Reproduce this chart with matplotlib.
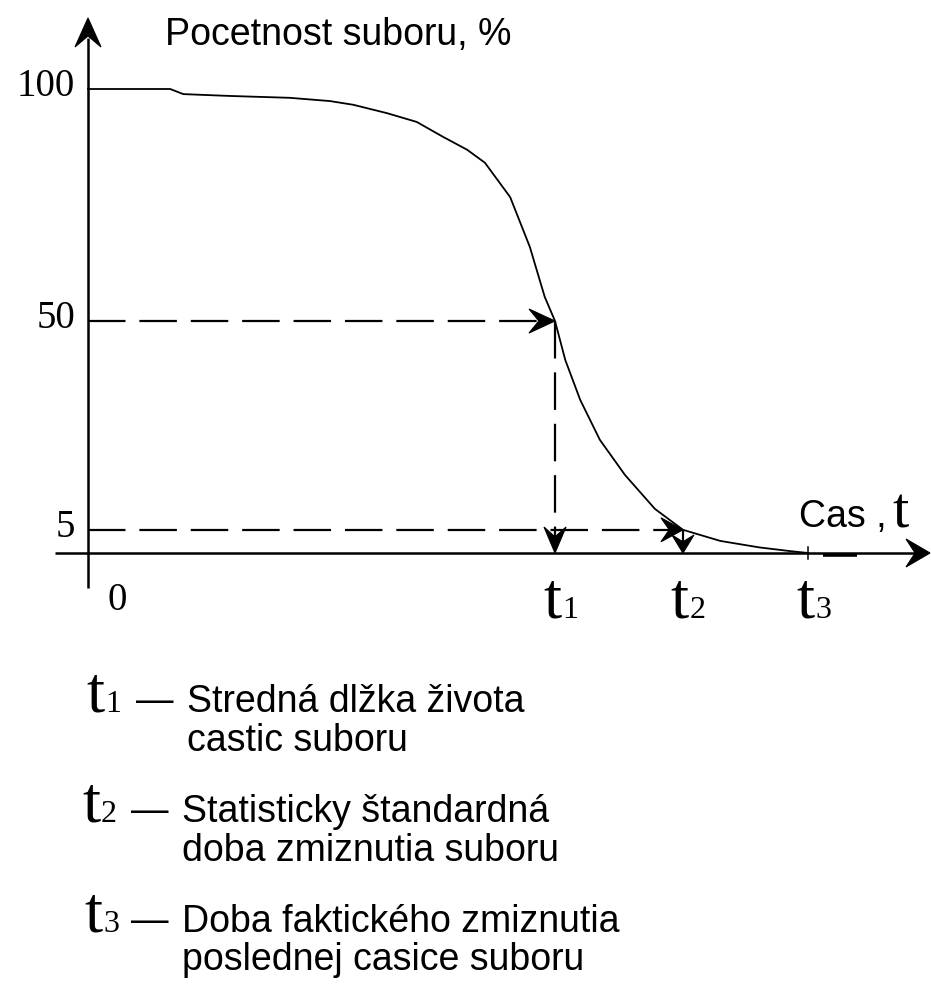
import matplotlib
matplotlib.use("Agg")
import matplotlib.pyplot as plt

# ---------------- data ----------------
time_t = [0, 0.88, 1.02, 1.52, 2.16, 2.59, 2.84, 3.20, 3.52, 3.80, 4.06, 4.25,
          4.52, 4.73, 4.89, 5.00, 5.11, 5.27, 5.48, 5.75, 6.07, 6.37, 6.77,
          7.19, 7.52, 7.71]
count_pct = [100, 100, 98.9, 98.5, 98.1, 97.4, 96.6, 94.8, 92.9, 89.7, 86.9, 84.1,
             76.7, 66.0, 55.2, 50.0, 41.6, 33.0, 24.4, 16.8, 9.5, 5.0, 2.6,
             1.2, 0.4, 0.0]
y_ticks = [100, 50, 5]
y_tick_labels = ["100", "50", "5"]
t_marks = [5.00, 6.37, 7.71]
t_levels = [50, 5, 0]
t_names = ["t", "t", "t"]
t_digits = ["1", "2", "3"]
legend_lines = [
    ("1", "Stredná dlžka života", "castic suboru"),
    ("2", "Statisticky štandardná", "doba zmiznutia suboru"),
    ("3", "Doba faktického zmiznutia", "poslednej casice suboru"),
]

W, H = 931, 985
fig = plt.figure(figsize=(W / 100, H / 100), dpi=100)
ax = fig.add_axes([0, 0, 1, 1])
ax.set_axis_off()
PX_X = 93.4   # pixels per time unit
PX_Y = 4.64   # pixels per percent
X0, Y0 = 88, 553
ax.set_xlim(-X0 / PX_X, (W - X0) / PX_X)
ax.set_ylim((Y0 - H) / PX_Y, Y0 / PX_Y)

SANS = "Liberation Sans"
SERIF = "Liberation Serif"
K = "black"
FS = 27


def fx(px):
    return px / W


def fy(py):
    return 1 - py / H


def stealth(tx, ty, dx, dy, L, w, notch=0.62):
    """Barbed arrow head with tip at data point (tx, ty), pointing along (dx, dy)."""
    nx, ny = -dy, dx
    offs = [(0, 0),
            (-L * dx + w * nx, -L * dy + w * ny),
            (-notch * L * dx, -notch * L * dy),
            (-L * dx - w * nx, -L * dy - w * ny)]
    xs = [tx + ox / PX_X for ox, oy in offs]
    ys = [ty + oy / PX_Y for ox, oy in offs]
    ax.fill(xs, ys, color=K, lw=0.8, zorder=4)


# axes with arrows
y_top = (Y0 - 18) / PX_Y
ax.plot([0, 0], [(Y0 - 588) / PX_Y, y_top - 20 / PX_Y], color=K, lw=1.8,
        solid_capstyle="butt")
stealth(0, y_top, 0, 1, 29, 13)
x_end = (W - 1 - X0) / PX_X
ax.plot([(55 - X0) / PX_X, x_end - 15 / PX_X], [0, 0], color=K, lw=1.8,
        solid_capstyle="butt")
stealth(x_end, 0, 1, 0, 24, 14)

# curve
ax.plot(time_t, count_pct, color=K, lw=1.3, zorder=3)
# tail marks near t3
ax.plot([7.87, 8.23], [-0.4, -0.4], color=K, lw=2.6, solid_capstyle="butt")
ax.plot([t_marks[2], t_marks[2]], [-1.4, 1.4], color=K, lw=1.1)

# dashed guide lines with arrows
lw_d = 1.6
dash = (0, (27 / lw_d, 10 / lw_d))
for i, (tm, lev) in enumerate(zip(t_marks[:2], t_levels[:2])):
    L = 26 if i == 0 else 22
    # horizontal
    ax.plot([0, tm - 0.6 * L / PX_X], [lev, lev], color=K, lw=lw_d, linestyle=dash)
    stealth(tm, lev, 1, 0, L, 12)
    # vertical
    Lv = 26 if i == 0 else 18
    ax.plot([tm, tm], [lev, 0.6 * Lv / PX_Y], color=K, lw=lw_d, linestyle=dash)
    stealth(tm, 0, 0, -1, Lv, 11)

# y tick labels
for v, lab in zip(y_ticks, y_tick_labels):
    ax.text(-13 / PX_X, v + 0.6, lab, ha="right", va="center", fontsize=28,
            family=SERIF, color=K)
ax.text((117 - X0) / PX_X, (Y0 - 601) / PX_Y, "0", ha="center", va="center",
        fontsize=28, family=SERIF, color=K)

# t labels under the axis
for tm, nm, dg in zip(t_marks, t_names, t_digits):
    xp = X0 + tm * PX_X + 6
    fig.text(fx(xp), fy(618), nm, ha="right", va="baseline", fontsize=47,
             family=SERIF, color=K)
    fig.text(fx(xp + 1), fy(618), dg, ha="left", va="baseline", fontsize=23,
             family=SERIF, color=K)

# axis titles
fig.text(fx(165), fy(45), "Pocetnost suboru, %", ha="left", va="baseline",
         fontsize=FS, family=SANS, color=K)
fig.text(fx(799), fy(527), "Cas ,", ha="left", va="baseline", fontsize=FS,
         family=SANS, color=K)
fig.text(fx(892), fy(527), "t", ha="left", va="baseline", fontsize=42,
         family=SERIF, color=K)

# legend block
rows = [(712, 751, 86, 136, 187), (822, 861, 82, 131, 182), (932, 970, 84, 131, 182)]
for (dg, l1, l2), (b1, b2, xt, xd, xl) in zip(legend_lines, rows):
    fig.text(fx(xt), fy(b1), "t", ha="left", va="baseline", fontsize=47,
             family=SERIF, color=K)
    fig.text(fx(xt + 19), fy(b1), dg, ha="left", va="baseline", fontsize=23,
             family=SERIF, color=K)
    fig.text(fx(xd), fy(b1), "\u2014", ha="left", va="baseline", fontsize=FS,
             family=SANS, color=K)
    fig.text(fx(xl), fy(b1), l1, ha="left", va="baseline", fontsize=FS,
             family=SANS, color=K)
    fig.text(fx(xl), fy(b2), l2, ha="left", va="baseline", fontsize=FS,
             family=SANS, color=K)

fig.savefig("out.png", dpi=100, facecolor="white")
